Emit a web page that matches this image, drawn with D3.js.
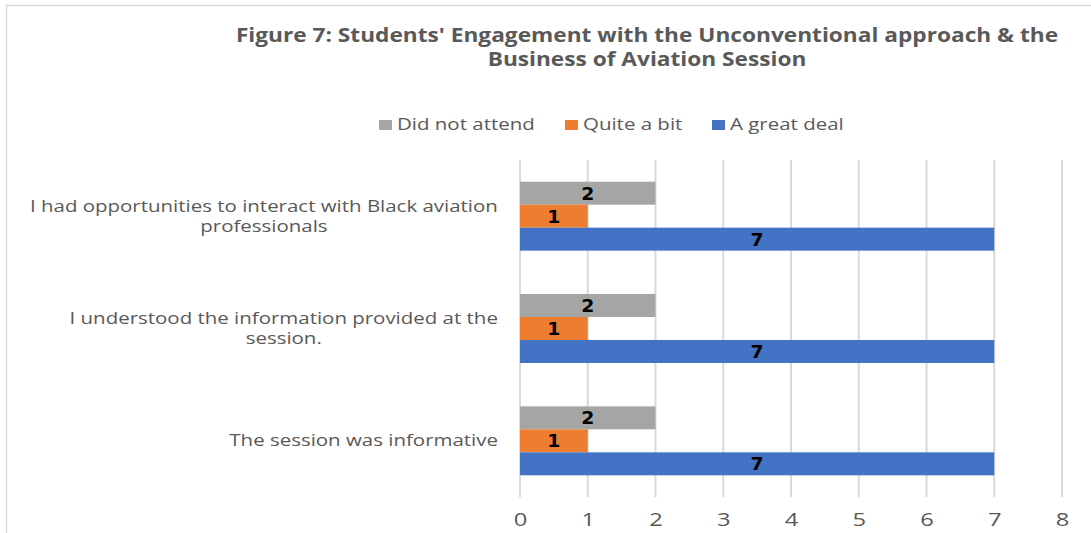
<!DOCTYPE html>
<html>
<head>
<meta charset="utf-8">
<script src="https://cdn.jsdelivr.net/npm/d3@7"></script>
<style>
  body { margin: 0; background: #fff; }
  svg { display: block; }
</style>
</head>
<body>
<svg id="chart" width="1091" height="533"></svg>
<script>
var titleLines = ["Figure 7: Students' Engagement with the Unconventional approach & the",
                  "Business of Aviation Session"];
var categories = [
  ["I had opportunities to interact with Black aviation", "professionals"],
  ["I understood the information provided at the", "session."],
  ["The session was informative"]
];
var seriesNames = ["Did not attend", "Quite a bit", "A great deal"];
var didNotAttend = [2, 2, 2];
var quiteABit = [1, 1, 1];
var greatDeal = [7, 7, 7];
var xTicks = [0, 1, 2, 3, 4, 5, 6, 7, 8];

var colors = {"Did not attend": "#a5a5a5", "Quite a bit": "#ed7d31", "A great deal": "#4472c4"};

var svg = d3.select("#chart");
var W = 1091, H = 533;
var margin = {top: 160, left: 520, right: 29, bottom: 36};
var font = "Open Sans, sans-serif";
// the screenshot is stretched sideways, so text is widened with scale(k,1)
var stretch = 1.32;

// chart frame (runs off right/bottom like the screenshot)
svg.append("path")
  .attr("d", `M6.5,${H} L6.5,5.5 L${W},5.5`)
  .attr("fill", "none")
  .attr("stroke", "#d9d9d9")
  .attr("stroke-width", 1.5);

var title = svg.append("g").selectAll("g")
  .data(titleLines).join("g")
  .attr("transform", (d, i) => `translate(647,${42 + i * 24})`);
var titleText = title.append("text")
  .attr("text-anchor", "middle")
  .attr("font-family", font)
  .attr("font-weight", "bold")
  .attr("font-size", 19)
  .attr("fill", "#595959")
  .text(d => d);
var tk = 823 / titleText.node().getComputedTextLength();
title.attr("transform", (d, i) => `translate(647,${42 + i * 24}) scale(${tk},1)`);

var x = d3.scaleLinear().domain([0, 8]).range([margin.left, 1062]);
var yBottom = 497;
var y0 = d3.scaleBand()
  .domain(d3.range(categories.length))
  .range([margin.top, yBottom])
  .paddingInner(0.386)
  .paddingOuter(0.193);
var y1 = d3.scaleBand()
  .domain(seriesNames)
  .range([0, y0.bandwidth()]);

// gridlines
svg.append("g").selectAll("line")
  .data(xTicks).join("line")
  .attr("x1", d => x(d)).attr("x2", d => x(d))
  .attr("y1", margin.top).attr("y2", yBottom)
  .attr("stroke", "#d9d9d9")
  .attr("stroke-width", 2);

var xAxis = svg.append("g")
  .attr("transform", `translate(0,${yBottom})`)
  .call(d3.axisBottom(x).tickValues(xTicks).tickSize(0).tickPadding(16));
xAxis.select(".domain").remove();
xAxis.selectAll("text")
  .attr("font-family", font)
  .attr("font-size", 18)
  .attr("fill", "#595959")
  .attr("transform", `scale(${stretch},1)`);

var rows = [];
categories.forEach((c, i) => {
  rows.push({cat: i, key: "Did not attend", value: didNotAttend[i]});
  rows.push({cat: i, key: "Quite a bit", value: quiteABit[i]});
  rows.push({cat: i, key: "A great deal", value: greatDeal[i]});
});

var bars = svg.append("g").selectAll("g")
  .data(rows).join("g")
  .attr("transform", d => `translate(0,${y0(d.cat) + y1(d.key)})`);
bars.append("rect")
  .attr("x", x(0))
  .attr("width", d => x(d.value) - x(0))
  .attr("height", y1.bandwidth())
  .attr("fill", d => colors[d.key]);
bars.append("text")
  .attr("transform", d => `translate(${(x(0) + x(d.value)) / 2},${y1.bandwidth() / 2}) scale(1.08,1)`)
  .attr("dy", "0.37em")
  .attr("text-anchor", "middle")
  .attr("font-family", "DejaVu Sans, sans-serif")
  .attr("font-weight", "bold")
  .attr("font-size", 17.5)
  .attr("fill", "#000")
  .text(d => d.value);

// category labels: wrapped lines centred on each other, block right-aligned
var catG = svg.append("g").selectAll("g")
  .data(categories).join("g");
catG.each(function(lines, i) {
  var g = d3.select(this);
  var lh = 20;
  var cy = y0(i) + y0.bandwidth() / 2;
  var texts = g.selectAll("text").data(lines).join("text")
    .attr("dy", "0.35em")
    .attr("text-anchor", "middle")
    .attr("font-family", font)
    .attr("font-size", 15.5)
    .attr("fill", "#595959")
    .text(d => d);
  var maxW = d3.max(texts.nodes(), n => n.getComputedTextLength()) * stretch;
  texts.attr("transform", (d, j) =>
    `translate(${498 - maxW / 2},${cy + (j - (lines.length - 1) / 2) * lh}) scale(${stretch},1)`);
});

// legend
var legendX = [379, 565, 712];
var leg = svg.append("g").selectAll("g")
  .data(seriesNames).join("g")
  .attr("transform", (d, i) => `translate(${legendX[i]},125)`);
leg.append("rect")
  .attr("x", 0).attr("y", -5)
  .attr("width", 13).attr("height", 10)
  .attr("fill", d => colors[d]);
leg.append("text")
  .attr("transform", `translate(18,0) scale(${stretch},1)`)
  .attr("dy", "0.35em")
  .attr("font-family", font)
  .attr("font-size", 15.5)
  .attr("fill", "#595959")
  .text(d => d);
</script>
</body>
</html>
